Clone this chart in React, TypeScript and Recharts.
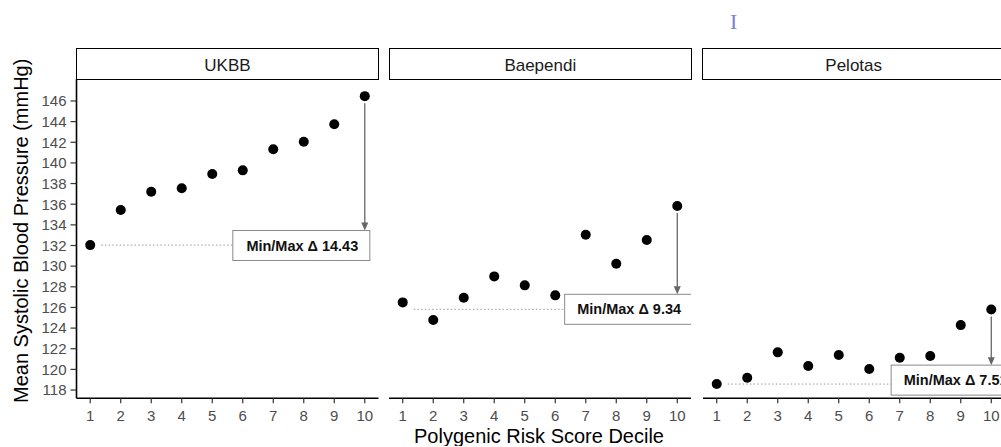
import { ReferenceDot, ReferenceLine, Scatter, ScatterChart, XAxis, YAxis } from "recharts";

const DECILES = [1, 2, 3, 4, 5, 6, 7, 8, 9, 10];
const UKBB = [132.04, 135.44, 137.21, 137.54, 138.92, 139.28, 141.32, 142.05, 143.74, 146.47];
const BAEPENDI = [126.49, 124.78, 126.94, 129.01, 128.14, 127.17, 133.04, 130.23, 132.53, 135.83];
const PELOTAS = [118.58, 119.19, 121.65, 120.32, 121.39, 120.03, 121.12, 121.29, 124.29, 125.8];
const COHORTS = ["UKBB", "Baependi", "Pelotas"];
const SERIES = [UKBB, BAEPENDI, PELOTAS];
const DELTA_LABELS = ["Min/Max Δ 14.43", "Min/Max Δ 9.34", "Min/Max Δ 7.51"];
// dotted reference level + label anchor, in data units
const REF_LEVEL = [132.04, 125.82, 118.58];
const LABEL_X = [7.92, 8.39, 8.8];
const LABEL_Y = [132.0, 125.82, 118.96];
const Y_TICKS = [118, 120, 122, 124, 126, 128, 130, 132, 134, 136, 138, 140, 142, 144, 146];
const X_DOMAIN = [0.55, 10.45];
const Y_DOMAIN = [117.2, 148.1];

// layout
const FONT = "'Liberation Sans', Arial, Helvetica, sans-serif";
const PANEL_LEFT = [76.5, 389.3, 702.7];
const PANEL_W = 302;
const PLOT_TOP = 79.3;
const PLOT_H = 319;
const CHART_TOP = 60;
const X_AXIS_H = 48;
const Y_AXIS_W = 76.5;
const BOX_W = [137, 127, 127];
const BOX_H = 30;

const tickStyle = { fill: "#4d4d4d", fontSize: 15, fontFamily: FONT };
const axisLine = { stroke: "#000", strokeWidth: 1.6 };
const tickLine = { stroke: "#333", strokeWidth: 1.2 };

function Panel({ index }: { index: number }) {
  const first = index === 0;
  const yw = first ? Y_AXIS_W : 0;
  const values = SERIES[index];
  const data = DECILES.map((d, i) => ({ decile: d, sbp: values[i] }));
  const boxW = BOX_W[index];
  const mt = PLOT_TOP - CHART_TOP;

  return (
    <div style={{ position: "absolute", left: PANEL_LEFT[index] - yw, top: CHART_TOP }}>
      <ScatterChart
        width={yw + PANEL_W}
        height={mt + PLOT_H + X_AXIS_H}
        margin={{ top: mt, right: 0, bottom: 0, left: 0 }}
      >
        <XAxis
          type="number"
          dataKey="decile"
          domain={X_DOMAIN}
          ticks={DECILES}
          interval={0}
          height={X_AXIS_H}
          tick={tickStyle}
          tickSize={5}
          tickMargin={7}
          axisLine={axisLine}
          tickLine={tickLine}
          label={
            index === 1
              ? {
                  content: (p: any) => (
                    <text
                      x={p.viewBox.x + p.viewBox.width / 2 - 1}
                      y={p.viewBox.y + 45}
                      textAnchor="middle"
                      fontSize={20}
                      fontFamily={FONT}
                      fill="#000"
                    >
                      Polygenic Risk Score Decile
                    </text>
                  ),
                }
              : undefined
          }
        />
        <YAxis
          type="number"
          dataKey="sbp"
          domain={Y_DOMAIN}
          ticks={Y_TICKS}
          interval={0}
          hide={!first}
          width={yw}
          tick={tickStyle}
          tickSize={6}
          tickMargin={4}
          axisLine={axisLine}
          tickLine={tickLine}
          label={
            first
              ? {
                  content: (p: any) => {
                    const x = p.viewBox.x + 28.3;
                    const y = p.viewBox.y + p.viewBox.height / 2 - 8;
                    return (
                      <text
                        x={x}
                        y={y}
                        transform={`rotate(-90, ${x}, ${y})`}
                        textAnchor="middle"
                        fontSize={20}
                        fontFamily={FONT}
                        fill="#000"
                      >
                        Mean Systolic Blood Pressure (mmHg)
                      </text>
                    );
                  },
                }
              : undefined
          }
        />
        {/* dotted line from decile 1 to the label */}
        <ReferenceLine
          segment={[
            { x: 1, y: REF_LEVEL[index] },
            { x: LABEL_X[index], y: REF_LEVEL[index] },
          ]}
          shape={(p: any) => (
            <line
              x1={p.x1 + 11}
              y1={p.y1}
              x2={p.x2 - boxW / 2}
              y2={p.y2}
              stroke="#9a9a9a"
              strokeWidth={1}
              strokeDasharray="1.5 2.2"
            />
          )}
        />
        {/* arrow from top decile down to the label */}
        <ReferenceLine
          segment={[
            { x: 10, y: values[9] },
            { x: 10, y: LABEL_Y[index] },
          ]}
          shape={(p: any) => {
            const yEnd = p.y2 - BOX_H / 2;
            return (
              <g>
                <line x1={p.x1} y1={p.y1 + 7} x2={p.x2} y2={yEnd - 6} stroke="#666" strokeWidth={1.3} />
                <polygon
                  points={`${p.x2},${yEnd} ${p.x2 - 3.5},${yEnd - 8} ${p.x2 + 3.5},${yEnd - 8}`}
                  fill="#666"
                />
              </g>
            );
          }}
        />
        <ReferenceDot
          x={LABEL_X[index]}
          y={LABEL_Y[index]}
          shape={(p: any) => (
            <g>
              <rect
                x={p.cx - boxW / 2}
                y={p.cy - BOX_H / 2}
                width={boxW}
                height={BOX_H}
                fill="#fff"
                stroke="#8a8a8a"
                strokeWidth={1}
              />
              <text
                x={p.cx + 1}
                y={p.cy + 5}
                textAnchor="middle"
                fontSize={14.5}
                fontWeight="bold"
                fontFamily={FONT}
                fill="#111"
              >
                {DELTA_LABELS[index]}
              </text>
            </g>
          )}
        />
        <Scatter
          data={data}
          isAnimationActive={false}
          shape={(p: any) => <circle cx={p.cx} cy={p.cy} r={5} fill="#000" />}
        />
      </ScatterChart>
    </div>
  );
}

function Strip({ index }: { index: number }) {
  return (
    <div
      style={{
        position: "absolute",
        left: PANEL_LEFT[index] - 0.8,
        top: 47.5,
        width: PANEL_W + 1.6,
        height: 32.6,
        boxSizing: "border-box",
        border: "1.6px solid #000",
        background: "#fff",
        display: "flex",
        alignItems: "center",
        justifyContent: "center",
        paddingTop: 4,
        fontSize: 17,
        color: "#1a1a1a",
        fontFamily: FONT,
      }}
    >
      {COHORTS[index]}
    </div>
  );
}

export default function App() {
  return (
    <div
      style={{
        position: "absolute",
        left: 0,
        top: 0,
        width: 1001,
        height: 447,
        overflow: "hidden",
        background: "#fff",
        fontFamily: FONT,
      }}
    >
      <span
        style={{
          position: "absolute",
          left: 730,
          top: 9,
          fontSize: 22,
          fontFamily: "'Liberation Serif', serif",
          color: "#8080d0",
        }}
      >
        I
      </span>
      {COHORTS.map((c, i) => (
        <Strip key={c} index={i} />
      ))}
      {COHORTS.map((c, i) => (
        <Panel key={c} index={i} />
      ))}
    </div>
  );
}
